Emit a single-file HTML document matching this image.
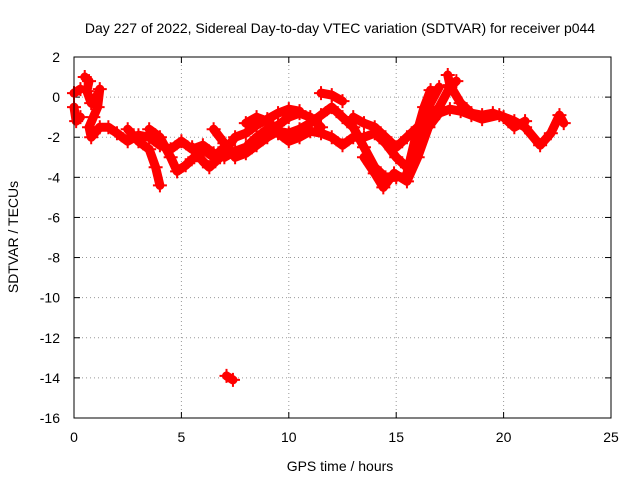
<!DOCTYPE html>
<html><head><meta charset="utf-8"><style>
body{margin:0;background:#fff}
svg{display:block;font-family:"Liberation Sans",sans-serif}
</style></head><body>
<svg id="c" width="640" height="480">
<rect x="0" y="0" width="640" height="480" fill="#fff"/>
<g id="grid"></g><g id="ticks"></g><g id="marks"></g>
<rect x="74" y="57" width="537" height="361" fill="none" stroke="#000"/>
<text x="340" y="33" text-anchor="middle" font-size="14">Day 227 of 2022, Sidereal Day-to-day VTEC variation (SDTVAR) for receiver p044</text>
<text x="340" y="471" text-anchor="middle" font-size="14">GPS time / hours</text>
<text x="18" y="237" text-anchor="middle" font-size="14" transform="rotate(-90 18 237)">SDTVAR / TECUs</text>
</svg>
<script>
const xTicks=[0,5,10,15,20,25];
const yTicks=[2,0,-2,-4,-6,-8,-10,-12,-14,-16];
const track1=[[0,0.2],[0.3,0.4]];
const track2=[[0,-0.5],[0.1,-1.2],[0.3,-1.0]];
const track3=[[0.5,1.0],[0.7,0.8],[0.6,0.3],[0.8,-0.3],[1.0,-0.1],[1.2,0.4],[1.1,-0.5],[0.9,-1.0],[0.7,-1.5],[0.8,-2.0],[1.2,-1.5],[1.6,-1.5],[2,-1.8],[2.5,-2.2],[3,-1.9],[3.5,-2.0],[4,-2.4],[4.5,-2.6],[5,-2.2],[5.5,-2.6],[6,-2.4],[6.5,-2.8],[7,-3.0],[7.5,-2.7],[8,-2.5],[8.5,-2.0],[9,-1.6],[9.5,-1.4],[10,-1.0],[10.5,-0.8],[11,-1.0],[11.5,-1.5]];
const track4=[[2.5,-1.6],[3,-2.2],[3.5,-2.6],[3.8,-3.5],[4.0,-4.4]];
const track5=[[3.5,-1.6],[4,-2.0],[4.5,-3.0],[4.8,-3.7],[5.2,-3.4],[5.6,-3.0],[6,-2.6],[6.5,-3.0],[7,-2.5]];
const track6=[[5.5,-2.5],[6,-3.2],[6.3,-3.5],[6.8,-3.0],[7.5,-2.0],[8,-1.8],[8.5,-1.4],[9,-1.1],[9.5,-0.8],[10,-0.6],[10.5,-0.7]];
const track7=[[6.5,-1.6],[7,-2.3],[7.5,-3.0],[8,-2.8],[8.5,-2.4],[9,-2.0],[9.5,-1.7],[10,-1.8],[10.5,-1.6],[11,-1.3],[11.5,-0.9],[12,-0.5],[12.5,-1.0],[13,-1.5],[13.5,-2.5],[14,-3.5],[14.5,-4.0],[15,-4.0]];
const track8=[[8,-1.3],[8.5,-1.0],[9,-1.2],[9.5,-1.8],[10,-2.2],[10.5,-2.0],[11,-1.7],[11.5,-1.8],[12,-2.0],[12.5,-2.4],[13,-2.0],[13.5,-2.0],[14,-1.8],[14.5,-2.3],[15,-3.0],[15.5,-3.5],[15.8,-3.0],[16,-2.0],[16.5,-0.5],[17,0.5]];
const track9=[[11.5,0.2],[12,0.1],[12.5,-0.2]];
const track10=[[13,-1.0],[13.5,-1.3],[14,-1.5],[14.5,-2.0],[15,-2.5],[15.5,-2.0],[16,-1.5],[16.5,-1.2],[17,-0.5],[17.5,0.5],[17.8,0.8]];
const track11=[[13.5,-3.0],[14,-3.8],[14.4,-4.5],[14.9,-3.8],[15.5,-4.2],[16,-3.0],[16.5,-1.5],[17,-0.8],[17.5,-0.6],[18,-0.7],[18.5,-0.9],[19,-1.1],[19.8,-0.9],[20.5,-1.2],[21,-1.5],[21.7,-2.4],[22.2,-1.8],[22.6,-0.9],[22.8,-1.3]];
const track12=[[17.4,1.1],[17.5,0.6],[18,-0.3],[18.5,-0.8],[19,-0.9],[19.5,-0.8],[20,-1.0],[20.5,-1.5],[21,-1.2]];
const track13=[[7.1,-13.9],[7.4,-14.1]];
const track14=[[15.5,-3.8],[15.9,-2.0],[16.3,-0.5],[16.6,0.35]];
const tracks=[track1,track2,track3,track4,track5,track6,track7,track8,track9,track10,track11,track12,track13,track14];
const X0=74,X1=611,Y0=418,Y1=57;
const sx=v=>X0+(v-0)/25*(X1-X0);
const sy=v=>Y0-(v+16)/18*(Y0-Y1);
const NS='http://www.w3.org/2000/svg';
const grid=document.getElementById('grid'),ticks=document.getElementById('ticks'),marks=document.getElementById('marks');
function mk(tag,at,parent){const e=document.createElementNS(NS,tag);for(const k in at)e.setAttribute(k,at[k]);parent.appendChild(e);return e;}
xTicks.forEach(t=>{const x=sx(t);
 if(t>0&&t<25){const g=mk('line',{x1:x,y1:Y0,x2:x,y2:Y1,stroke:'#999','stroke-dasharray':'1,3'},grid);
 
 }
 mk('line',{x1:x,y1:Y0,x2:x,y2:Y0-6,stroke:'#000'},ticks);
 mk('line',{x1:x,y1:Y1,x2:x,y2:Y1+6,stroke:'#000'},ticks);
 const l=mk('text',{x:x,y:Y0+24,'text-anchor':'middle','font-size':14},ticks);l.textContent=t;
 
 });
yTicks.forEach(t=>{const y=sy(t);
 if(t<2&&t>-16){const g=mk('line',{x1:X0,y1:y,x2:X1,y2:y,stroke:'#999','stroke-dasharray':'1,3'},grid);
 
 }
 mk('line',{x1:X0,y1:y,x2:X0+6,y2:y,stroke:'#000'},ticks);
 mk('line',{x1:X1,y1:y,x2:X1-6,y2:y,stroke:'#000'},ticks);
 const l=mk('text',{x:X0-14,y:y+5,'text-anchor':'end','font-size':14},ticks);l.textContent=t;
 
 });
tracks.forEach((tr,i)=>{
 const p=mk('polyline',{points:tr.map(d=>sx(d[0])+','+sy(d[1])).join(' '),fill:'none',stroke:'#f00','stroke-width':9,'stroke-linejoin':'round','stroke-linecap':'round'},marks);
 
 
 tr.forEach(d=>{const x=sx(d[0]),y=sy(d[1]);
  const m=mk('path',{d:`M${x-7},${y}H${x+7}M${x},${y-7}V${y+7}`,stroke:'#f00','stroke-width':2},marks);
  
  });
});
</script>
</body></html>
